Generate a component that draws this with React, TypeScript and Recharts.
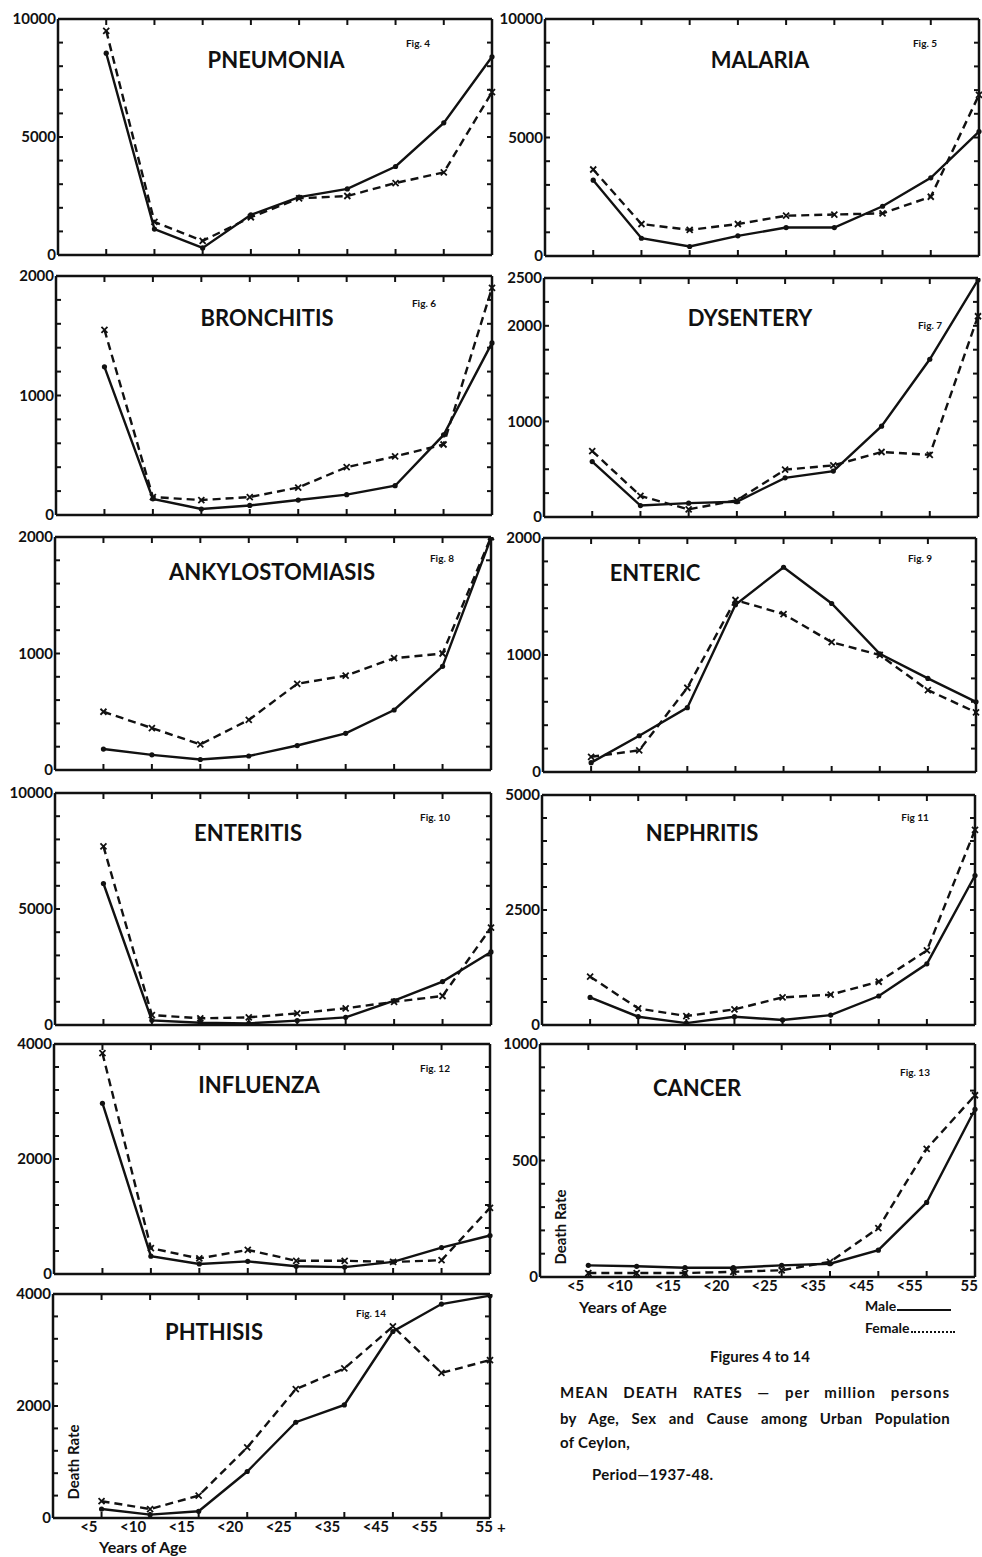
import React from "react";
import { Line, LineChart, XAxis, YAxis } from "recharts";

// Age groups along the x axis (index 0..8)
const AGE_GROUPS = ["<5", "<10", "<15", "<20", "<25", "<35", "<45", "<55", "55"];
const AGE_INDEX = [0, 1, 2, 3, 4, 5, 6, 7, 8];

// Mean death rates per million
const PNEUMONIA_MALE = [8550, 1100, 300, 1700, 2450, 2800, 3750, 5600, 8400];
const PNEUMONIA_FEMALE = [9500, 1400, 600, 1600, 2400, 2500, 3050, 3500, 6900];

const MALARIA_MALE = [3200, 750, 400, 850, 1200, 1200, 2100, 3300, 5250];
const MALARIA_FEMALE = [3650, 1350, 1100, 1350, 1700, 1750, 1800, 2500, 6800];

const BRONCHITIS_MALE = [1240, 135, 50, 80, 125, 170, 245, 670, 1440];
const BRONCHITIS_FEMALE = [1550, 150, 125, 150, 230, 400, 490, 590, 1900];

const DYSENTERY_MALE = [580, 120, 145, 160, 410, 480, 950, 1650, 2480];
const DYSENTERY_FEMALE = [690, 220, 80, 175, 495, 540, 680, 650, 2100];

const ANKYLO_MALE = [180, 130, 90, 120, 210, 315, 515, 890, 1990];
const ANKYLO_FEMALE = [500, 360, 220, 430, 740, 810, 960, 1000, 2000];

const ENTERIC_MALE = [80, 310, 550, 1430, 1750, 1440, 1010, 800, 600];
const ENTERIC_FEMALE = [130, 185, 720, 1470, 1350, 1110, 1000, 700, 510];

const ENTERITIS_MALE = [6100, 200, 100, 70, 190, 330, 1050, 1870, 3150];
const ENTERITIS_FEMALE = [7700, 430, 290, 330, 500, 720, 1000, 1250, 4200];

const NEPHRITIS_MALE = [600, 180, 40, 180, 110, 215, 630, 1330, 3250];
const NEPHRITIS_FEMALE = [1050, 360, 195, 340, 600, 660, 940, 1620, 4240];

const INFLUENZA_MALE = [2970, 310, 175, 220, 135, 120, 210, 460, 670];
const INFLUENZA_FEMALE = [3840, 450, 270, 420, 230, 230, 210, 240, 1150];

const CANCER_MALE = [50, 46, 40, 40, 50, 57, 115, 320, 720];
const CANCER_FEMALE = [17, 17, 17, 22, 29, 65, 210, 550, 780];

const PHTHISIS_MALE = [160, 60, 120, 830, 1710, 2020, 3330, 3820, 3970];
const PHTHISIS_FEMALE = [300, 160, 400, 1260, 2300, 2670, 3420, 2590, 2820];

// labelled y ticks per panel
const TICKS_10000 = [0, 5000, 10000];
const TICKS_2000 = [0, 1000, 2000];
const TICKS_2500 = [0, 1000, 2000, 2500];
const TICKS_5000 = [0, 2500, 5000];
const TICKS_4000 = [0, 2000, 4000];
const TICKS_1000 = [0, 500, 1000];

const INK = "#111";
const FONT = "Lato, 'Open Sans', sans-serif";

type Panel = {
  name: string;
  fig: string;
  male: number[];
  female: number[];
  max: number;
  labels: number[];
  box: [number, number, number, number];
  title: [number, number];
  figPos: [number, number];
  xLabels?: boolean;
  plus?: boolean;
  deathRate?: [number, number];
};

const PANELS: Panel[] = [
  { name: "PNEUMONIA", fig: "Fig. 4", male: PNEUMONIA_MALE, female: PNEUMONIA_FEMALE, max: 10000, labels: TICKS_10000,
    box: [58, 19, 492, 255], title: [276, 60], figPos: [418, 43] },
  { name: "MALARIA", fig: "Fig. 5", male: MALARIA_MALE, female: MALARIA_FEMALE, max: 10000, labels: TICKS_10000,
    box: [545, 19, 979, 256], title: [760, 60], figPos: [925, 43] },
  { name: "BRONCHITIS", fig: "Fig. 6", male: BRONCHITIS_MALE, female: BRONCHITIS_FEMALE, max: 2000, labels: TICKS_2000,
    box: [56, 276, 492, 515], title: [267, 318], figPos: [424, 303] },
  { name: "DYSENTERY", fig: "Fig. 7", male: DYSENTERY_MALE, female: DYSENTERY_FEMALE, max: 2500, labels: TICKS_2500,
    box: [544, 278, 978, 517], title: [750, 318], figPos: [930, 325] },
  { name: "ANKYLOSTOMIASIS", fig: "Fig. 8", male: ANKYLO_MALE, female: ANKYLO_FEMALE, max: 2000, labels: TICKS_2000,
    box: [55, 537, 491, 770], title: [272, 572], figPos: [442, 558] },
  { name: "ENTERIC", fig: "Fig. 9", male: ENTERIC_MALE, female: ENTERIC_FEMALE, max: 2000, labels: TICKS_2000,
    box: [543, 538, 976, 772], title: [655, 573], figPos: [920, 558] },
  { name: "ENTERITIS", fig: "Fig. 10", male: ENTERITIS_MALE, female: ENTERITIS_FEMALE, max: 10000, labels: TICKS_10000,
    box: [55, 793, 491, 1025], title: [248, 833], figPos: [435, 817] },
  { name: "NEPHRITIS", fig: "Fig  11", male: NEPHRITIS_MALE, female: NEPHRITIS_FEMALE, max: 5000, labels: TICKS_5000,
    box: [542, 795, 975, 1025], title: [702, 833], figPos: [915, 817] },
  { name: "INFLUENZA", fig: "Fig. 12", male: INFLUENZA_MALE, female: INFLUENZA_FEMALE, max: 4000, labels: TICKS_4000,
    box: [54, 1044, 490, 1274], title: [259, 1085], figPos: [435, 1068] },
  { name: "CANCER", fig: "Fig. 13", male: CANCER_MALE, female: CANCER_FEMALE, max: 1000, labels: TICKS_1000,
    box: [540, 1044, 975, 1277], title: [697, 1088], figPos: [915, 1072], xLabels: true, deathRate: [560, 1227] },
  { name: "PHTHISIS", fig: "Fig. 14", male: PHTHISIS_MALE, female: PHTHISIS_FEMALE, max: 4000, labels: TICKS_4000,
    box: [53, 1294, 490, 1518], title: [214, 1332], figPos: [371, 1313], xLabels: true, plus: true, deathRate: [73, 1462] },
];

// chart margins around the plot box
const ML = 60;
const MR = 16;
const MT = 14;
const MB = 40;

function MaleDot(props: any) {
  const { cx, cy, index } = props;
  return <circle key={`m${index}`} cx={cx} cy={cy} r={2.6} fill={INK} />;
}

function FemaleDot(props: any) {
  const { cx, cy, index } = props;
  const s = 3;
  return (
    <path
      key={`f${index}`}
      d={`M${cx - s},${cy - s}L${cx + s},${cy + s}M${cx + s},${cy - s}L${cx - s},${cy + s}`}
      stroke={INK}
      strokeWidth={1.8}
      fill="none"
    />
  );
}

function AgeTick(props: any) {
  const { x, y, payload, plus } = props;
  const i = payload.value as number;
  const last = i === AGE_GROUPS.length - 1;
  const style = { fontFamily: FONT, fontWeight: 700, fontSize: 15, fill: INK };
  return (
    <g>
      <text x={last ? x + 3 : x - 4} y={y + 12} textAnchor="end" style={style}>
        {AGE_GROUPS[i]}
      </text>
      {last && plus ? (
        <text x={x + 7} y={y + 13} textAnchor="start" style={style}>
          +
        </text>
      ) : null}
    </g>
  );
}

// y tick: label (major values only) plus inward minor ticks on both sides of the frame
function RateTick(props: any) {
  const { x, y, payload, labels, left, right } = props;
  const v = payload.value as number;
  return (
    <g>
      <line x1={left} x2={left + 5} y1={y} y2={y} stroke={INK} strokeWidth={2} />
      <line x1={right - 5} x2={right} y1={y} y2={y} stroke={INK} strokeWidth={2} />
      {labels.includes(v) ? (
        <text
          x={x}
          y={y}
          dy="0.35em"
          textAnchor="end"
          style={{ fontFamily: FONT, fontWeight: 700, fontSize: 15, fill: INK }}
        >
          {v}
        </text>
      ) : null}
    </g>
  );
}

const noLabel = () => "";

function PanelChart({ p }: { p: Panel }) {
  const [x0, y0, x1, y1] = p.box;
  const width = x1 - x0 + ML + MR;
  const height = y1 - y0 + MT + MB;
  const rows = AGE_INDEX.map((i) => ({ x: i, male: p.male[i], female: p.female[i] }));
  const minor = Array.from({ length: 11 }, (_, i) => (p.max * i) / 10);
  const axisLine = { stroke: INK, strokeWidth: 2.5 };
  const tickLine = { stroke: INK, strokeWidth: 2 };
  const hiddenTick = { fill: "none", fontSize: 1 };
  const xCommon = { type: "number" as const, domain: [-1, 8], ticks: AGE_INDEX, interval: 0 as const, dataKey: "x" };
  const yCommon = {
    type: "number" as const,
    domain: [0, p.max],
    ticks: minor,
    interval: 0 as const,
    allowDataOverflow: true,
  };

  return (
    <div style={{ position: "absolute", left: x0 - ML, top: y0 - MT }}>
      <LineChart
        width={width}
        height={height}
        data={rows}
        margin={{ top: MT, right: MR, bottom: 4, left: 4 }}
        style={{ overflow: "visible" }}
      >
        {/* bottom axis: line + labels */}
        <XAxis
          xAxisId="b"
          {...xCommon}
          orientation="bottom"
          height={MB - 4}
          axisLine={axisLine}
          tickLine={false}
          tickSize={0}
          tickMargin={2}
          tick={p.xLabels ? (props: any) => <AgeTick {...props} plus={p.plus} /> : hiddenTick}
          tickFormatter={p.xLabels ? undefined : noLabel}
        />
        {/* inward tick marks on bottom */}
        <XAxis
          xAxisId="bm"
          {...xCommon}
          orientation="bottom"
          mirror
          axisLine={false}
          tickLine={tickLine}
          tickSize={6}
          tick={hiddenTick}
          tickFormatter={noLabel}
        />
        {/* top frame with inward ticks */}
        <XAxis
          xAxisId="t"
          {...xCommon}
          orientation="top"
          mirror
          axisLine={axisLine}
          tickLine={tickLine}
          tickSize={6}
          tick={hiddenTick}
          tickFormatter={noLabel}
        />
        {/* left axis: line, labels and minor ticks (both sides) */}
        <YAxis
          yAxisId="l"
          {...yCommon}
          width={ML - 4}
          axisLine={axisLine}
          tickLine={false}
          tickSize={0}
          tickMargin={2}
          tick={(props: any) => <RateTick {...props} labels={p.labels} left={ML} right={width - MR} />}
        />
        {/* right frame */}
        <YAxis
          yAxisId="r"
          {...yCommon}
          orientation="right"
          mirror
          axisLine={axisLine}
          tickLine={false}
          tick={hiddenTick}
          tickFormatter={noLabel}
        />
        <Line xAxisId="b" yAxisId="r" dataKey="male" stroke="none" dot={false} activeDot={false} isAnimationActive={false} />
        <Line
          xAxisId="b"
          yAxisId="l"
          dataKey="female"
          type="linear"
          stroke={INK}
          strokeWidth={2.4}
          strokeDasharray="8 5"
          dot={FemaleDot}
          isAnimationActive={false}
        />
        <Line
          xAxisId="b"
          yAxisId="l"
          dataKey="male"
          type="linear"
          stroke={INK}
          strokeWidth={2.4}
          dot={MaleDot}
          isAnimationActive={false}
        />
      </LineChart>
    </div>
  );
}

const abs = (x: number, y: number): React.CSSProperties => ({
  position: "absolute",
  left: x,
  top: y,
  transform: "translate(-50%, -50%)",
  whiteSpace: "nowrap",
  lineHeight: 1,
});

export default function App() {
  return (
    <div
      style={{
        position: "absolute",
        left: 0,
        top: 0,
        width: 982,
        height: 1557,
        background: "#fff",
        fontFamily: FONT,
        fontWeight: 700,
        color: INK,
      }}
    >
      {PANELS.map((p) => (
        <PanelChart key={p.name} p={p} />
      ))}

      {PANELS.map((p) => (
        <React.Fragment key={`t-${p.name}`}>
          <div style={{ ...abs(p.title[0], p.title[1]), fontSize: 22 }}>{p.name}</div>
          <div style={{ ...abs(p.figPos[0], p.figPos[1]), fontSize: 10 }}>{p.fig}</div>
          {p.deathRate ? (
            <div
              style={{
                ...abs(p.deathRate[0], p.deathRate[1]),
                transform: "translate(-50%, -50%) rotate(-90deg)",
                fontSize: 15,
              }}
            >
              Death Rate
            </div>
          ) : null}
        </React.Fragment>
      ))}

      {/* x axis titles */}
      <div style={{ ...abs(143, 1547), fontSize: 16 }}>Years of Age</div>
      <div style={{ ...abs(623, 1307), fontSize: 16 }}>Years of Age</div>

      {/* legend */}
      <div style={{ position: "absolute", left: 865, top: 1299, fontSize: 14, lineHeight: 1 }}>
        Male
        <span style={{ display: "inline-block", width: 54, borderBottom: `2px solid ${INK}`, marginLeft: 1 }} />
      </div>
      <div style={{ position: "absolute", left: 865, top: 1321, fontSize: 14, lineHeight: 1 }}>
        Female
        <span style={{ display: "inline-block", width: 44, borderBottom: `2px dotted ${INK}`, marginLeft: 1 }} />
      </div>

      {/* caption */}
      <div style={{ ...abs(760, 1356), fontSize: 15 }}>Figures 4 to 14</div>
      <div
        style={{
          position: "absolute",
          left: 560,
          top: 1378,
          width: 390,
          fontSize: 15,
          letterSpacing: 1,
          lineHeight: "28px",
          textAlign: "justify",
        }}
      >
        <div style={{ textAlignLast: "justify" }}>MEAN DEATH RATES — per million persons</div>
        <div style={{ textAlignLast: "justify", marginTop: -2, letterSpacing: 0.3 }}>
          by Age, Sex and Cause among Urban Population
        </div>
        <div style={{ marginTop: -4, letterSpacing: 0.3 }}>of Ceylon,</div>
        <div style={{ marginLeft: 32, marginTop: 4, letterSpacing: 0.3 }}>Period—1937-48.</div>
      </div>
    </div>
  );
}
